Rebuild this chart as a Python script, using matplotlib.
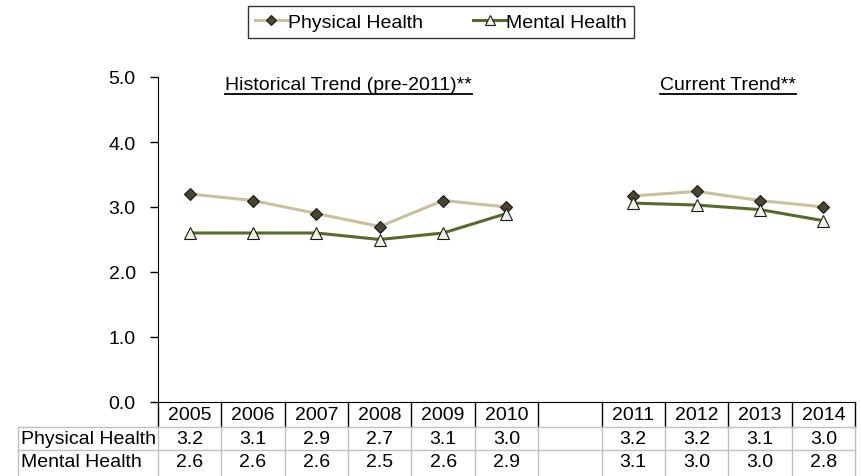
import matplotlib.pyplot as plt
import matplotlib.transforms as mtransforms
from matplotlib.lines import Line2D

plt.rcParams['font.family'] = ['Liberation Sans', 'DejaVu Sans']

# Data
years = ['2005', '2006', '2007', '2008', '2009', '2010', '',
         '2011', '2012', '2013', '2014']
hist_idx = [0, 1, 2, 3, 4, 5]
curr_idx = [7, 8, 9, 10]
physical_hist = [3.2, 3.1, 2.9, 2.7, 3.1, 3.0]
mental_hist = [2.6, 2.6, 2.6, 2.5, 2.6, 2.9]
physical_curr = [3.17, 3.24, 3.10, 3.00]
mental_curr = [3.06, 3.03, 2.96, 2.79]

W, H = 862, 477
FS = 14
fig = plt.figure(figsize=(W / 100, H / 100), dpi=100)

def fy(py):
    # pixel row -> figure fraction
    return 1 - py / H

ax_left, ax_right, ax_top, ax_bot = 158, 855, 78, 403
ax = fig.add_axes([ax_left / W, fy(ax_bot), (ax_right - ax_left) / W,
                   (ax_bot - ax_top) / H])

phys_style = dict(color='#C9C09E', lw=2.2, marker='D', ms=6.5,
                  mfc='#4B4631', mec='#1a1a1a', mew=0.8)
ment_style = dict(color='#566B2A', lw=2.2, marker='^', ms=8,
                  mfc='#F0F2E4', mec='#1a1a1a', mew=0.8)

ax.plot(hist_idx, physical_hist, label='Physical Health', **phys_style)
ax.plot(curr_idx, physical_curr, **phys_style)
ax.plot(hist_idx, mental_hist, label='Mental Health', **ment_style)
ax.plot(curr_idx, mental_curr, **ment_style)

ax.set_xlim(-0.5, len(years) - 0.5)
ax.set_ylim(0, 5)
ax.set_yticks([0, 1, 2, 3, 4, 5])
ax.set_yticklabels(['%.1f' % v for v in [0, 1, 2, 3, 4, 5]])
ax.set_xticks([])
ax.tick_params(axis='y', length=6, width=1, labelsize=FS, pad=10)
ax.spines['top'].set_visible(False)
ax.spines['right'].set_visible(False)

# Section titles with underline
fig.canvas.draw()
renderer = fig.canvas.get_renderer()
for cx, title in [(2.5, 'Historical Trend (pre-2011)**'), (8.5, 'Current Trend**')]:
    t = ax.text(cx, 0.978, title, transform=ax.get_xaxis_transform(),
                ha='center', va='center', fontsize=FS)
    bb = t.get_window_extent(renderer)
    y0 = bb.y0 - 1
    fig.add_artist(Line2D([bb.x0, bb.x1], [y0, y0], transform=None,
                          color='black', lw=1.3))

# Table below the axis
trans = mtransforms.blended_transform_factory(ax.transData, fig.transFigure)
row_y = [416, 440, 463]
row_edges = [403, 428, 451, 477]
n = len(years)
gray = '#BFBFBF'

for i, y in enumerate(years):
    ax.text(i, fy(row_y[0]), y, transform=trans, ha='center', va='center',
            fontsize=FS, clip_on=False)
for idx, vals in [(hist_idx, physical_hist), (curr_idx, physical_curr)]:
    for i, v in zip(idx, vals):
        ax.text(i, fy(row_y[1]), '%.1f' % v, transform=trans, ha='center',
                va='center', fontsize=FS, clip_on=False)
for idx, vals in [(hist_idx, mental_hist), (curr_idx, mental_curr)]:
    for i, v in zip(idx, vals):
        ax.text(i, fy(row_y[2]), '%.1f' % v, transform=trans, ha='center',
                va='center', fontsize=FS, clip_on=False)

for k in range(n + 1):
    xb = k - 0.5
    ax.add_line(Line2D([xb, xb], [fy(row_edges[0]), fy(row_edges[1])],
                       transform=trans, color='black', lw=1, clip_on=False))
    ax.add_line(Line2D([xb, xb], [fy(row_edges[1]), fy(row_edges[3])],
                       transform=trans, color=gray, lw=1, clip_on=False))

# row label cells
for py in [row_edges[1], row_edges[2]]:
    fig.add_artist(Line2D([18 / W, ax_right / W], [fy(py), fy(py)],
                          color=gray, lw=1))
fig.add_artist(Line2D([18 / W, 18 / W], [fy(row_edges[1]), 0],
                      color=gray, lw=1))
fig.text(21 / W, fy(row_y[1]), 'Physical Health', ha='left', va='center',
         fontsize=FS)
fig.text(21 / W, fy(row_y[2]), 'Mental Health', ha='left', va='center',
         fontsize=FS)

# Legend
leg = fig.legend(loc='center', bbox_to_anchor=(441 / W, fy(23)), ncol=2,
                 fontsize=FS, frameon=True, fancybox=False, edgecolor='black',
                 handlelength=1.7, handletextpad=0.0, columnspacing=2.6,
                 borderpad=0.35, borderaxespad=0, markerscale=0.85)
leg.get_frame().set_linewidth(1)

fig.savefig('out.png', dpi=100)
